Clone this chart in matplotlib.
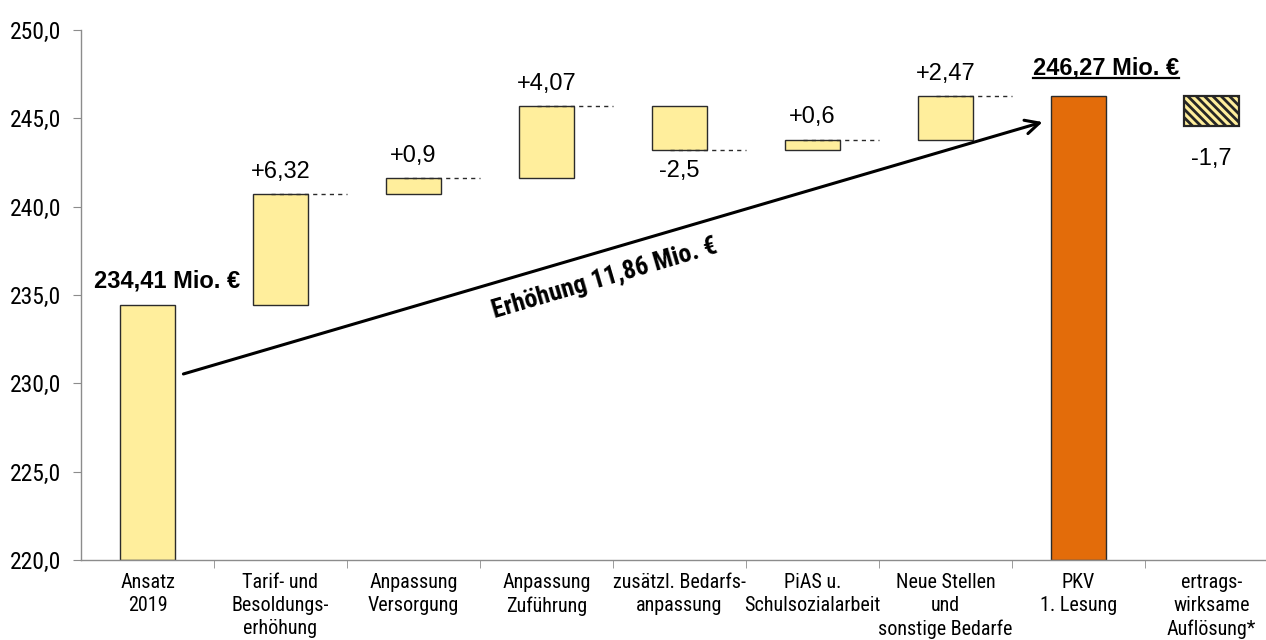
import numpy as np
import matplotlib
matplotlib.use("Agg")
import matplotlib.pyplot as plt
from matplotlib import font_manager
from matplotlib.ticker import FuncFormatter, MultipleLocator, FixedLocator
from matplotlib.lines import Line2D

categories = [
    "Ansatz\n2019",
    "Tarif- und\nBesoldungs-\nerhöhung",
    "Anpassung\nVersorgung",
    "Anpassung\nZuführung",
    "zusätzl. Bedarfs-\nanpassung",
    "PiAS u.\nSchulsozialarbeit",
    "Neue Stellen\nund\nsonstige Bedarfe",
    "PKV\n1. Lesung",
    "ertrags-\nwirksame\nAuflösung*",
]
start_value = 234.41
changes = [6.32, 0.9, 4.07, -2.5, 0.6, 2.47]
change_labels = ["+6,32", "+0,9", "+4,07", "-2,5", "+0,6", "+2,47"]
release = -1.7
release_label = "-1,7"
start_label = "234,41 Mio. €"
total_label = "246,27 Mio. €"
increase_label = "Erhöhung 11,86 Mio. €"

# look for a narrow sans face for axis labels
fonts = font_manager.fontManager.ttflist
narrow = None
for cand in ["Liberation Sans Narrow", "Roboto Condensed", "Open Sans Condensed",
             "Noto Sans Condensed", "DejaVu Sans Condensed"]:
    if any(f.name == cand for f in fonts):
        narrow = dict(family=[cand, "DejaVu Sans"])
        break
if narrow is None:
    cond = [f for f in fonts if str(f.stretch) in ("condensed", "semi-condensed", "extra-condensed")
            or "Narrow" in f.name or "Condensed" in f.name]
    if cond:
        narrow = dict(family=[cond[0].name, "DejaVu Sans"], stretch=cond[0].stretch)
    else:
        narrow = dict(family=["Liberation Sans", "DejaVu Sans"])
narrow_found = narrow["family"][0] != "Liberation Sans"

plt.rcParams["font.family"] = ["Liberation Sans", "DejaVu Sans"]
plt.rcParams["hatch.linewidth"] = 2.0

yellow = "#FFEE9C"
orange = "#E36C0A"
edge = "#2b2b2b"
bw = 0.41

fig = plt.figure(figsize=(12.66, 6.4), dpi=100)
ax = fig.add_axes([81 / 1266, 80 / 640, (1278 - 81) / 1266, 530 / 640])

# running totals of the waterfall
levels = start_value + np.cumsum(changes)
bottoms = np.concatenate([[start_value], levels[:-1]])
total = levels[-1]

ax.bar(0, start_value - 220, bottom=220, width=bw, color=yellow, edgecolor=edge, lw=1, zorder=2)
for i, (b, c) in enumerate(zip(bottoms, changes), start=1):
    ax.bar(i, c, bottom=b, width=bw, color=yellow, edgecolor=edge, lw=1, zorder=2)
ax.bar(7, total - 220, bottom=220, width=bw, color=orange, edgecolor=edge, lw=1, zorder=2)
ax.bar(8, release, bottom=total, width=bw, color=yellow, edgecolor="#262626", lw=1.6,
       hatch="\\\\\\\\", zorder=2)

# dashed connectors at each new level
for i, lv in enumerate(levels, start=1):
    ax.plot([i - 0.07, i + 0.5], [lv, lv], ls=(0, (3, 3)), color="#2a2a2a", lw=1, zorder=3)

# change labels
for i, (b, c, lab) in enumerate(zip(bottoms, changes, change_labels), start=1):
    if c >= 0:
        ax.annotate(lab, (i, b + c), xytext=(0, 8), textcoords="offset points",
                    ha="center", va="bottom", fontsize=17)
    else:
        ax.annotate(lab, (i, b + c), xytext=(0, -7), textcoords="offset points",
                    ha="center", va="top", fontsize=17)
ax.annotate(release_label, (8, total + release), xytext=(0, -16), textcoords="offset points",
            ha="center", va="top", fontsize=17)

ax.annotate(start_label, (0, start_value), xytext=(14, 9), textcoords="offset points",
            ha="center", va="bottom", fontsize=17, fontweight="bold")
tot = ax.annotate(total_label, (7, total), xytext=(20, 12), textcoords="offset points",
                  ha="center", va="bottom", fontsize=17, fontweight="bold")

ax.set_xlim(-0.5, 8.5)
ax.set_ylim(220, 250)

# increase arrow from the start bar to the total bar
p0 = (0.27, 230.53)
p1 = (6.73, 244.79)
ax.annotate("", xy=p1, xytext=p0,
            arrowprops=dict(arrowstyle="->,head_length=1.0,head_width=0.5", lw=2.2,
                            color="black", shrinkA=0, shrinkB=0), zorder=4)
q0 = ax.transData.transform(p0)
q1 = ax.transData.transform(p1)
angle = np.degrees(np.arctan2(q1[1] - q0[1], q1[0] - q0[0]))
ax.text(3.44, 235.95, increase_label, rotation=angle, rotation_mode="anchor",
        ha="center", va="center", fontsize=18.5 if narrow_found else 16, fontweight="bold",
        **narrow)

# axes styling
for s in ["top", "right"]:
    ax.spines[s].set_visible(False)
for s in ["left", "bottom"]:
    ax.spines[s].set_color("#8c8c8c")
    ax.spines[s].set_linewidth(1)
ax.yaxis.set_major_locator(MultipleLocator(5))
ax.yaxis.set_major_formatter(FuncFormatter(lambda v, p: f"{v:.1f}".replace(".", ",")))
ax.tick_params(axis="y", length=6, color="#8c8c8c", labelsize=17, pad=8)
for t in ax.get_yticklabels():
    t.set_family(narrow["family"])
    if "stretch" in narrow:
        t.set_stretch(narrow["stretch"])

ax.set_xticks(range(len(categories)))
ax.set_xticklabels(categories, fontsize=14.5 if narrow_found else 12.5, linespacing=1.3)
for t in ax.get_xticklabels():
    t.set_family(narrow["family"])
    if "stretch" in narrow:
        t.set_stretch(narrow["stretch"])
ax.tick_params(axis="x", which="major", length=0, pad=9)
ax.xaxis.set_minor_locator(FixedLocator(np.arange(0.5, len(categories) - 0.5, 1)))
ax.tick_params(axis="x", which="minor", length=6, color="#8c8c8c")

# underline for the total label
fig.canvas.draw()
bb = tot.get_window_extent(fig.canvas.get_renderer())
fig.add_artist(Line2D([bb.x0 / 1266, bb.x1 / 1266], [(bb.y0 + 1) / 640, (bb.y0 + 1) / 640],
                      color="black", lw=1.6, transform=fig.transFigure))

fig.savefig("out.png", dpi=100)
